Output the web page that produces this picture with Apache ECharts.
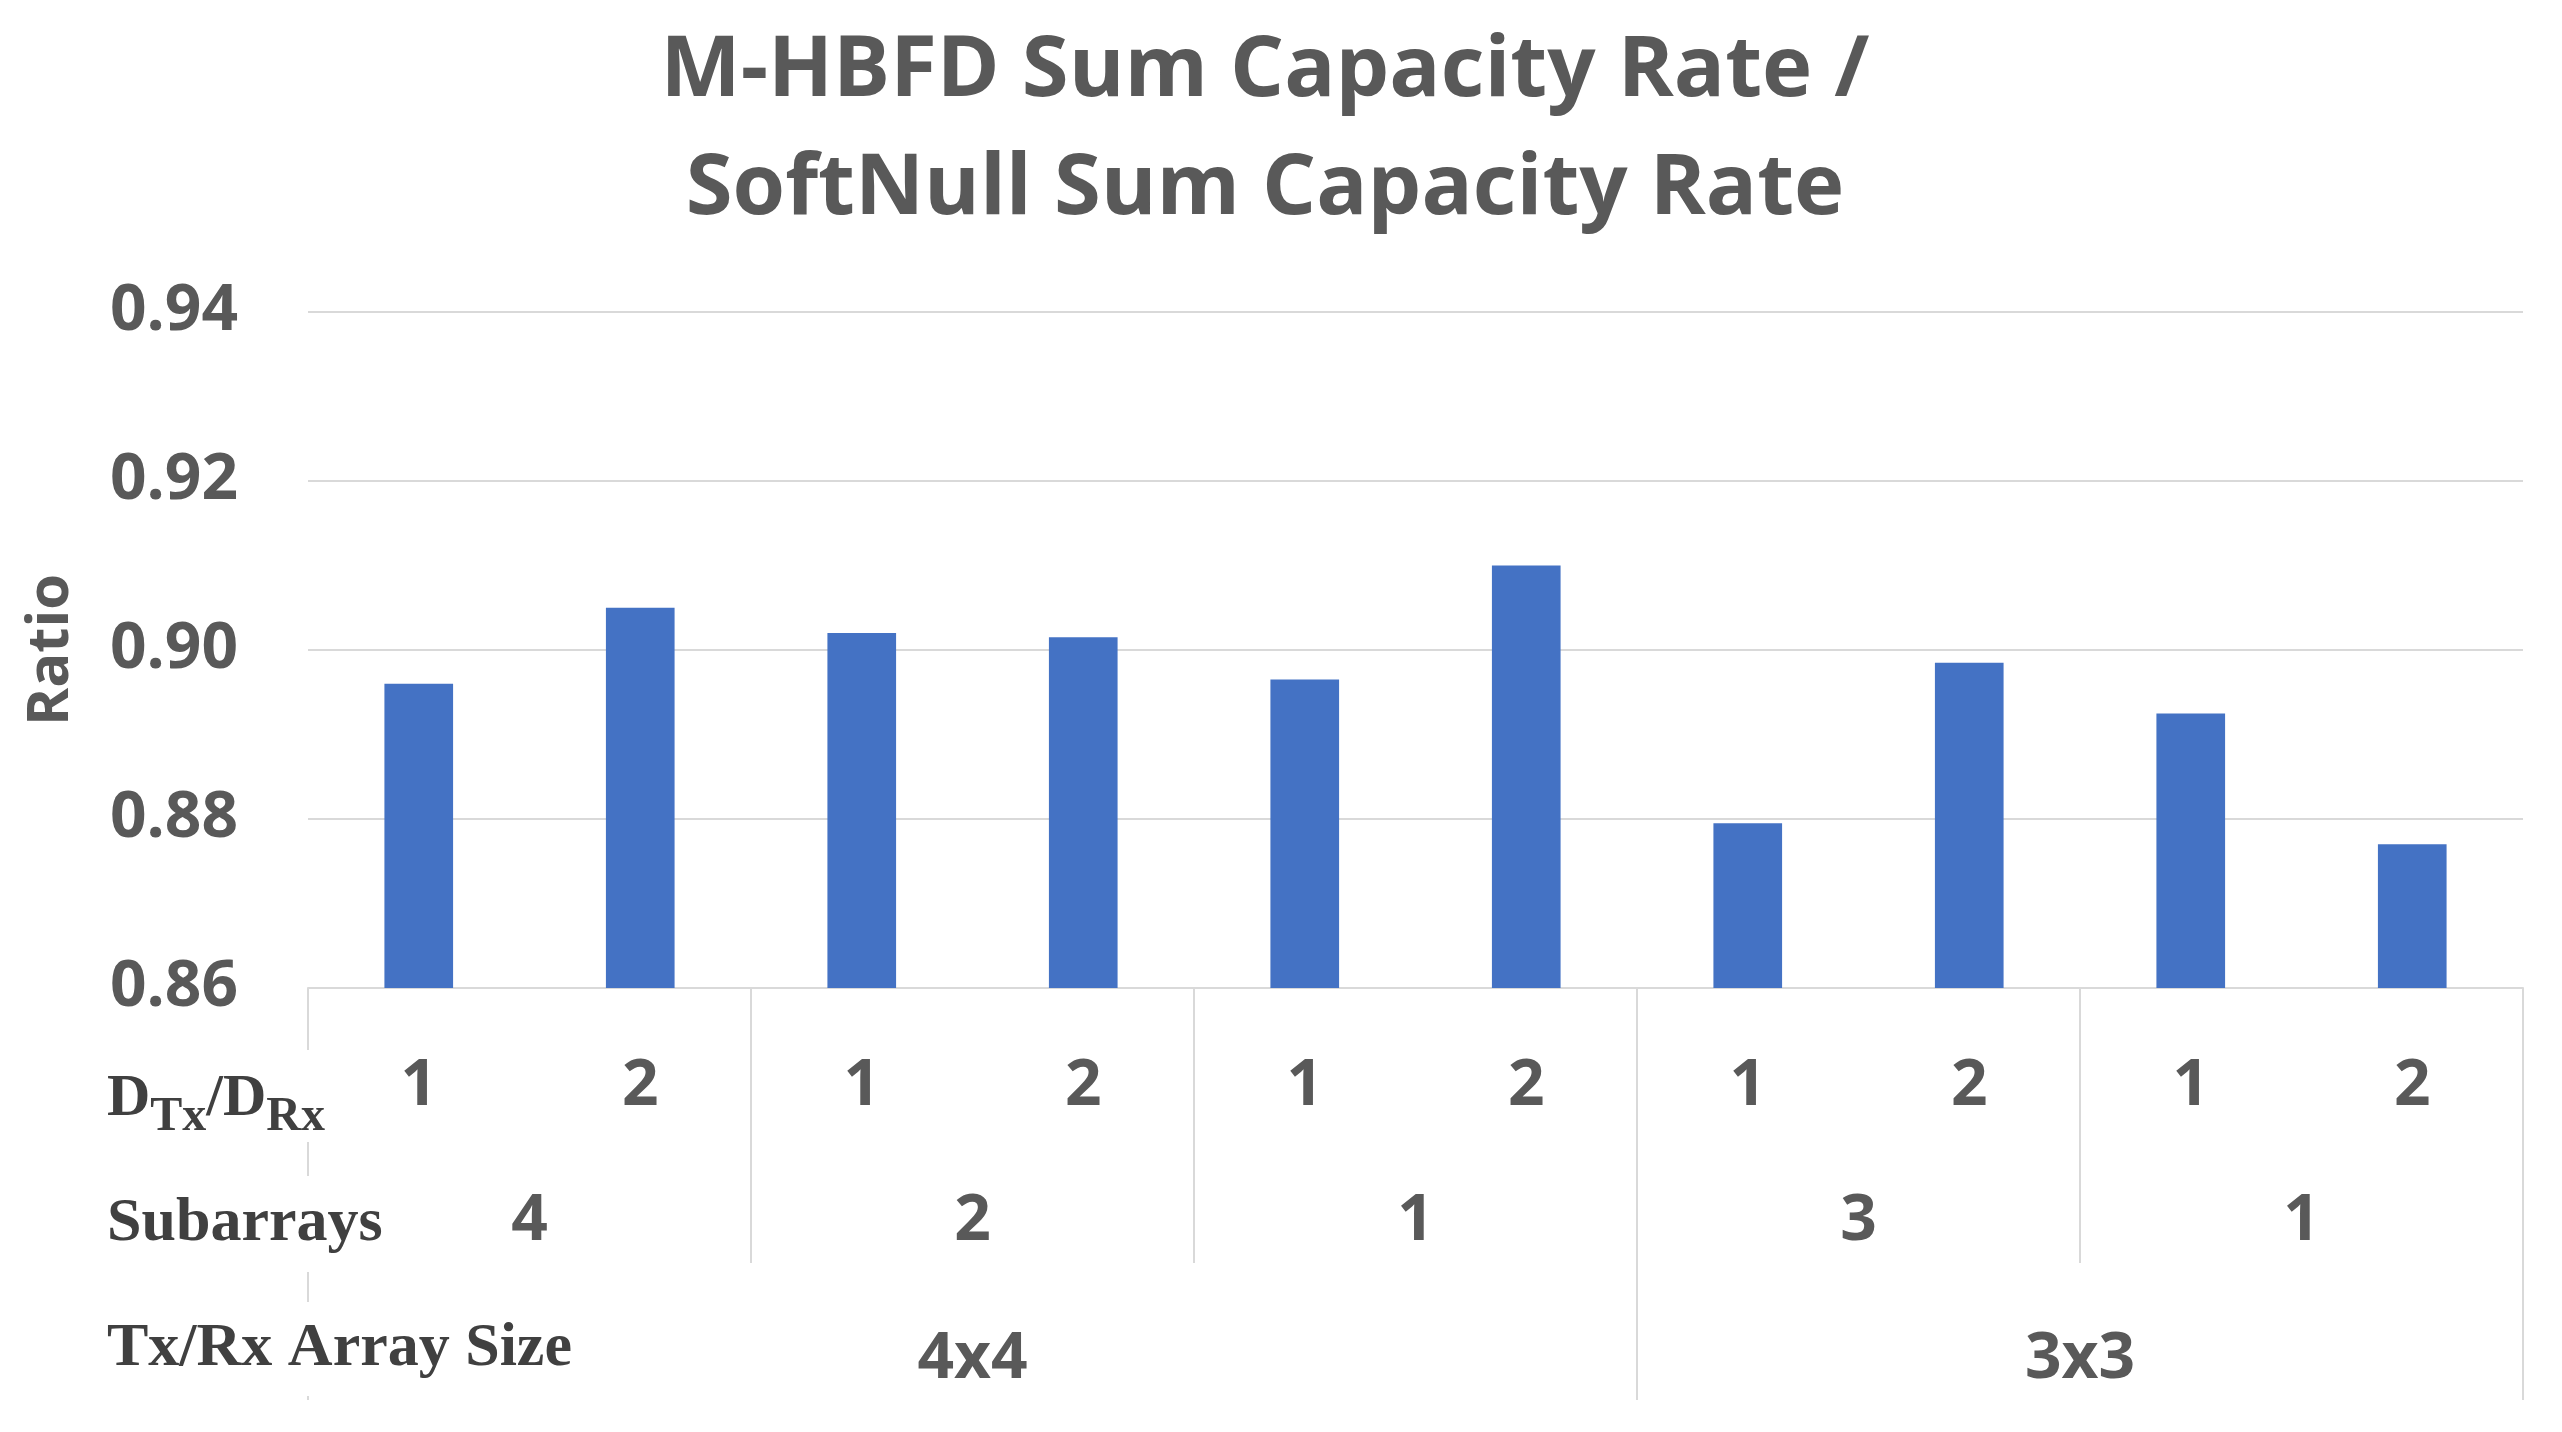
<!DOCTYPE html>
<html>
<head>
<meta charset="utf-8">
<script src="https://cdn.jsdelivr.net/npm/echarts@6/dist/echarts.min.js"></script>
<style>
html,body{margin:0;padding:0;background:#fff;}
#chart{width:2562px;height:1432px;}
</style>
</head>
<body>
<div id="chart"></div>
<script>
// ---- data ----
const dLabels = ['1','2','1','2','1','2','1','2','1','2'];
const ratioValues = [0.896, 0.905, 0.902, 0.9015, 0.8965, 0.910, 0.8795, 0.8985, 0.8925, 0.877];
const subarrayLabels = ['4','2','1','3','1'];
const subarraySpans = [2,2,2,2,2];
const sizeLabels = ['4x4','3x3'];
const sizeSpans = [6,4];
const yTicks = [0.86, 0.88, 0.90, 0.92, 0.94];
const titleText = 'M-HBFD Sum Capacity Rate /\nSoftNull Sum Capacity Rate';

function groupInfo(spans){
  const bounds=[0], centers=[];
  let acc=0;
  spans.forEach(s=>{centers.push(acc+s/2); acc+=s; bounds.push(acc);});
  return {bounds, centers};
}
const subInfo = groupInfo(subarraySpans);
const sizeInfo = groupInfo(sizeSpans);

const GRAY = '#595959';
const DARK = '#404040';
const LINE = '#d9d9d9';
const SANS = '"Open Sans", sans-serif';
const SERIF = '"Liberation Serif", serif';

const chart = echarts.init(document.getElementById('chart'));
const option = {
  backgroundColor: '#ffffff',
  animation: false,
  title: {
    text: titleText,
    left: 1260,
    top: 8,
    textAlign: 'center',
    textStyle: {fontFamily: SANS, fontWeight: 'bold', fontSize: 85, lineHeight: 118, color: GRAY}
  },
  grid: {left: 308, right: 39, top: 312, bottom: 444, containLabel: false},
  xAxis: [
    {
      type: 'category', data: dLabels, position: 'bottom',
      axisLine: {show: true, lineStyle: {color: LINE, width: 2}},
      axisTick: {show: false},
      axisLabel: {fontFamily: SANS, fontWeight: 'bold', fontSize: 64, color: GRAY, margin: 99, verticalAlign: 'middle'},
      splitLine: {show: false}
    },
    {
      type: 'value', min: 0, max: subInfo.bounds[subInfo.bounds.length-1], position: 'bottom',
      axisLine: {show: false},
      splitLine: {show: false},
      axisTick: {show: true, customValues: subInfo.bounds, length: 275, lineStyle: {color: LINE, width: 2}},
      axisLabel: {
        customValues: subInfo.centers,
        formatter: v => { const i = subInfo.centers.indexOf(v); return i >= 0 ? subarrayLabels[i] : ''; },
        fontFamily: SANS, fontWeight: 'bold', fontSize: 64, color: GRAY, margin: 234, verticalAlign: 'middle'
      }
    },
    {
      type: 'value', min: 0, max: sizeInfo.bounds[sizeInfo.bounds.length-1], position: 'bottom',
      axisLine: {show: false},
      splitLine: {show: false},
      axisTick: {show: true, customValues: sizeInfo.bounds, length: 412, lineStyle: {color: LINE, width: 2}},
      axisLabel: {
        customValues: sizeInfo.centers,
        formatter: v => { const i = sizeInfo.centers.indexOf(v); return i >= 0 ? sizeLabels[i] : ''; },
        fontFamily: SANS, fontWeight: 'bold', fontSize: 64, color: GRAY, margin: 372, verticalAlign: 'middle'
      }
    }
  ],
  yAxis: {
    type: 'value', min: yTicks[0], max: yTicks[yTicks.length-1], interval: 0.02,
    name: 'Ratio', nameLocation: 'middle', nameGap: 228, nameRotate: 90,
    nameTextStyle: {fontFamily: SANS, fontWeight: 'bold', fontSize: 58, color: GRAY},
    axisLine: {show: false}, axisTick: {show: false},
    axisLabel: {fontFamily: SANS, fontWeight: 'bold', fontSize: 64, color: GRAY, margin: 70,
      formatter: v => v.toFixed(2)},
    splitLine: {show: true, lineStyle: {color: LINE, width: 2}}
  },
  series: [{
    type: 'bar', xAxisIndex: 0, data: ratioValues, barWidth: '31%',
    itemStyle: {color: '#4472C4'}
  }],
  graphic: [
    {
      type: 'text', z: 100, left: 107, top: 1050,
      style: {
        text: '{d|D}{s|Tx}{d|/D}{s|Rx}',
        backgroundColor: '#ffffff', padding: [32, 4, 0, 0],
        rich: {
          d: {fontFamily: SERIF, fontWeight: 'bold', fontSize: 60, fill: DARK, lineHeight: 60, verticalAlign: 'bottom', padding: [0,0,13,0]},
          s: {fontFamily: SERIF, fontWeight: 'bold', fontSize: 48, fill: DARK, lineHeight: 48, verticalAlign: 'bottom'}
        }
      }
    },
    {
      type: 'text', z: 100, left: 107, top: 1176,
      style: {text: 'Subarrays', fontFamily: SERIF, fontWeight: 'bold', fontSize: 62, fill: DARK,
        lineHeight: 96, backgroundColor: '#ffffff', padding: [0, 4, 0, 0]}
    },
    {
      type: 'text', z: 100, left: 107, top: 1302,
      style: {text: 'Tx/Rx Array Size', fontFamily: SERIF, fontWeight: 'bold', fontSize: 62, fill: DARK,
        lineHeight: 94, backgroundColor: '#ffffff', padding: [0, 4, 0, 0]}
    }
  ]
};
chart.setOption(option);
</script>
</body>
</html>
